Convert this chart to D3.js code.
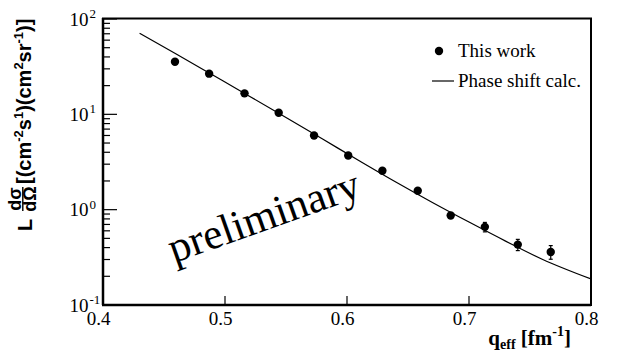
<!DOCTYPE html>
<html>
<head>
<meta charset="utf-8">
<script src="https://cdn.jsdelivr.net/npm/d3@7"></script>
<style>
  html, body { margin: 0; padding: 0; background: #fff; }
  svg { display: block; }
</style>
</head>
<body>
<svg id="chart" width="620" height="351"></svg>
<script>
// ---- data ----
const qData = [0.459, 0.487, 0.516, 0.544, 0.573, 0.601, 0.629, 0.658, 0.685, 0.713, 0.740, 0.767];
const yData = [35.6, 26.7, 16.6, 10.4, 6.0, 3.7, 2.56, 1.58, 0.87, 0.66, 0.43, 0.36];
const yErrUp = [1.2, 0.9, 0.5, 0.3, 0.18, 0.11, 0.08, 0.05, 0.04, 0.075, 0.058, 0.06];
const yErrDn = [1.2, 0.9, 0.5, 0.3, 0.18, 0.11, 0.08, 0.05, 0.04, 0.075, 0.058, 0.058];

const qCalc = [0.43, 0.46, 0.49, 0.52, 0.55, 0.58, 0.61, 0.64, 0.67, 0.70, 0.73, 0.76, 0.80];
const yCalc = [70.8, 42.9, 25.8, 15.5, 9.25, 5.5, 3.26, 1.95, 1.19, 0.741, 0.468, 0.302, 0.1875];

const xTicks = [0.4, 0.5, 0.6, 0.7, 0.8];
const xTickLabels = ["0.4", "0.5", "0.6", "0.7", "0.8"];
const yDecades = [0.1, 1, 10, 100];
const yDecadeExps = ["-1", "0", "1", "2"];
const legendLabels = ["This work", "Phase shift calc."];
const watermark = "preliminary";

// ---- layout ----
const svg = d3.select("#chart");
const L = 103, R = 591, T = 19, B = 305;
const x = d3.scaleLinear().domain([0.4, 0.8]).range([L, R]);
const y = d3.scaleLog().domain([0.1, 100]).range([B, T]);
const serif = "'Liberation Serif', 'Times New Roman', serif";
const sans = "'Liberation Sans', Arial, sans-serif";

// clip
svg.append("defs").append("clipPath").attr("id", "clip")
  .append("rect").attr("x", L).attr("y", T).attr("width", R - L).attr("height", B - T);

// watermark text
svg.append("text")
  .attr("transform", "translate(174,263) rotate(-19.5)")
  .attr("font-family", serif).attr("font-size", 43)
  .attr("fill", "#000")
  .text(watermark);

// curve
const line = d3.line()
  .x((d, i) => x(qCalc[i]))
  .y((d, i) => y(yCalc[i]))
  .curve(d3.curveMonotoneX);
svg.append("path")
  .attr("clip-path", "url(#clip)")
  .attr("d", line(qCalc))
  .attr("fill", "none").attr("stroke", "#000").attr("stroke-width", 1.2);

// error bars
const eb = svg.append("g").attr("stroke", "#000").attr("stroke-width", 1.2);
qData.forEach((q, i) => {
  const cx = x(q);
  const y1 = y(yData[i] + yErrUp[i]), y2 = y(yData[i] - yErrDn[i]);
  eb.append("line").attr("x1", cx).attr("x2", cx).attr("y1", y1).attr("y2", y2);
  eb.append("line").attr("x1", cx - 2).attr("x2", cx + 2).attr("y1", y1).attr("y2", y1);
  eb.append("line").attr("x1", cx - 2).attr("x2", cx + 2).attr("y1", y2).attr("y2", y2);
});

// markers
svg.append("g").selectAll("circle").data(qData).join("circle")
  .attr("cx", d => x(d))
  .attr("cy", (d, i) => y(yData[i]))
  .attr("r", 4.2)
  .attr("fill", "#000");

// axes ticks
const ax = svg.append("g").attr("stroke", "#000");
xTicks.slice(1, -1).forEach(t => {
  ax.append("line").attr("x1", x(t)).attr("x2", x(t)).attr("y1", B).attr("y2", B - 9).attr("stroke-width", 1.2);
});
yDecades.forEach((d, k) => {
  ax.append("line").attr("x1", L).attr("x2", L + 14).attr("y1", y(d)).attr("y2", y(d)).attr("stroke-width", 1.2);
  if (k < yDecades.length - 1) {
    for (let m = 2; m <= 9; m++) {
      const v = d * m;
      ax.append("line").attr("x1", L).attr("x2", L + 7).attr("y1", y(v)).attr("y2", y(v)).attr("stroke-width", 1.2);
    }
  }
});

// frame
svg.append("rect").attr("x", L).attr("y", T - 0.5).attr("width", R - L).attr("height", B - T + 0.5)
  .attr("fill", "none").attr("stroke", "#000").attr("stroke-width", 2);
svg.append("line").attr("x1", L - 1).attr("x2", R).attr("y1", B).attr("y2", B).attr("stroke", "#000").attr("stroke-width", 2.5);
svg.append("line").attr("x1", L).attr("x2", L).attr("y1", T - 1).attr("y2", B).attr("stroke", "#000").attr("stroke-width", 2.5);

// x tick labels
svg.append("g").attr("font-family", serif).attr("font-size", 19)
  .selectAll("text").data(xTicks).join("text")
  .attr("x", d => x(d) - 4.5).attr("y", 325)
  .attr("text-anchor", "middle")
  .text((d, i) => xTickLabels[i]);

// y tick labels 10^n
const yl = svg.append("g").attr("font-family", serif);
yDecades.forEach((d, i) => {
  yl.append("text").attr("x", 88.5).attr("y", y(d) + 6.5).attr("text-anchor", "end")
    .attr("font-size", 19).text("10");
  yl.append("text").attr("x", 89.5).attr("y", y(d) - 1).attr("text-anchor", "start")
    .attr("font-size", 13).text(yDecadeExps[i]);
});

// x axis title
const xt = svg.append("text").attr("x", 571).attr("y", 345).attr("text-anchor", "end")
  .attr("font-family", serif).attr("font-weight", "bold").attr("font-size", 21);
xt.append("tspan").text("q");
xt.append("tspan").attr("font-size", 14).attr("dy", 4).text("eff");
xt.append("tspan").attr("dy", -4).text(" [fm");
xt.append("tspan").attr("font-size", 14).attr("dy", -9).text("-1");
xt.append("tspan").attr("dy", 9).text("]");

// y axis title (rotated)
const yt = svg.append("g").attr("transform", "rotate(-90)")
  .attr("font-family", sans).attr("font-weight", "bold").attr("fill", "#000");
yt.append("text").attr("x", -231).attr("y", 32).attr("font-size", 20).text("L");
yt.append("text").attr("x", -199).attr("y", 20.5).attr("font-size", 18).attr("text-anchor", "middle").text("dσ");
yt.append("line").attr("x1", -211).attr("x2", -187).attr("y1", 22.8).attr("y2", 22.8).attr("stroke", "#000").attr("stroke-width", 1.4);
yt.append("text").attr("x", -199).attr("y", 36).attr("font-size", 18).attr("text-anchor", "middle").text("dΩ");
const yb = yt.append("text").attr("x", -184).attr("y", 31).attr("font-size", 20);
yb.append("tspan").text("[(cm");
yb.append("tspan").attr("font-size", 13).attr("dy", -8).text("-2");
yb.append("tspan").attr("dy", 8).text("s");
yb.append("tspan").attr("font-size", 13).attr("dy", -8).text("1");
yb.append("tspan").attr("dy", 8).text(")(cm");
yb.append("tspan").attr("font-size", 13).attr("dy", -8).text("2");
yb.append("tspan").attr("dy", 8).text("sr");
yb.append("tspan").attr("font-size", 13).attr("dy", -8).text("-1");
yb.append("tspan").attr("dy", 8).text(")]");

// legend
const lg = svg.append("g").attr("font-family", serif).attr("font-size", 19);
lg.append("circle").attr("cx", 439).attr("cy", 51).attr("r", 4.2).attr("fill", "#000");
lg.append("text").attr("x", 458).attr("y", 57).text(legendLabels[0]);
lg.append("line").attr("x1", 432).attr("x2", 454).attr("y1", 81).attr("y2", 81).attr("stroke", "#000").attr("stroke-width", 1.2);
lg.append("text").attr("x", 458).attr("y", 87).text(legendLabels[1]);
</script>
</body>
</html>
